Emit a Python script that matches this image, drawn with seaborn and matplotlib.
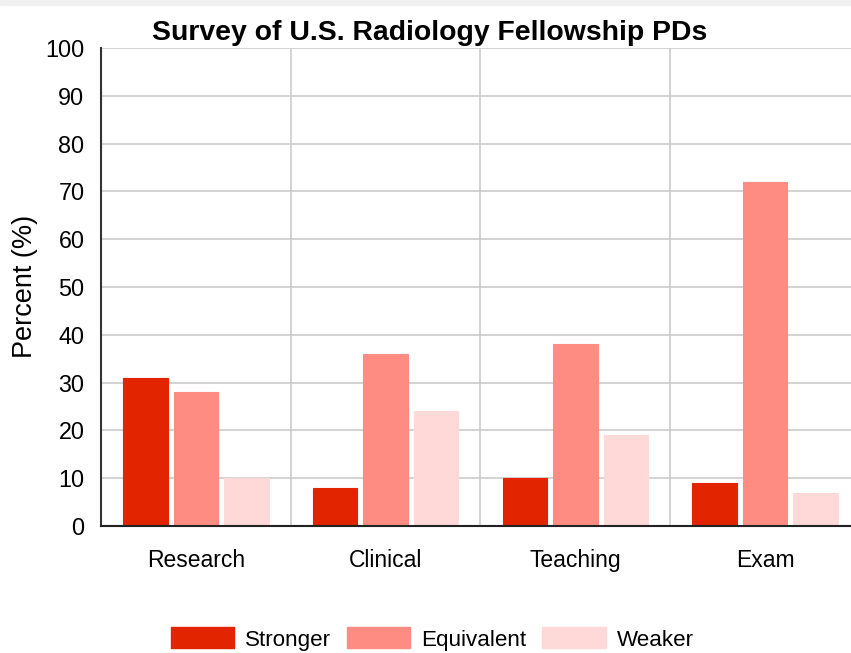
import matplotlib
matplotlib.use("Agg")
import matplotlib.pyplot as plt
import seaborn as sns
import pandas as pd
from matplotlib.patches import Rectangle, Patch

categories = ["Research", "Clinical", "Teaching", "Exam"]
series = ["Stronger", "Equivalent", "Weaker"]
stronger = [31, 8, 10, 9]
equivalent = [28, 36, 38, 72]
weaker = [10, 24, 19, 7]
colors = ["#E32400", "#FF8C82", "#FFD8D8"]
yticks = [0, 10, 20, 30, 40, 50, 60, 70, 80, 90, 100]

rows = []
for s, vals in zip(series, [stronger, equivalent, weaker]):
    for c, v in zip(categories, vals):
        rows.append({"Category": c, "Series": s, "Value": v})
df = pd.DataFrame(rows)

sns.set_style("white")
plt.rcParams["font.family"] = ["Liberation Sans", "DejaVu Sans"]
plt.rcParams["text.color"] = "black"
plt.rcParams["xtick.color"] = "black"
plt.rcParams["ytick.color"] = "black"

W, H = 851, 653
fig = plt.figure(figsize=(W / 100, H / 100), dpi=100)
fig.patches.append(Rectangle((0, 1 - 5 / H), 1, 5 / H, transform=fig.transFigure,
                             color="#F0F0F0", zorder=0))
ax = fig.add_axes([101 / W, 1 - 526 / H, (860 - 101) / W, (526 - 48) / H])

sns.barplot(data=df, x="Category", y="Value", hue="Series", hue_order=series,
            palette=colors, saturation=1, width=0.8, gap=0.12, ax=ax, legend=False,
            linewidth=0, zorder=3)
for i, bars in enumerate(ax.containers):
    for b in bars:
        b.set_edgecolor(colors[i])
        b.set_linewidth(0.8)

ax.set_xlim(-0.5, 3.5)
ax.set_ylim(0, 100)
ax.set_yticks(yticks)
ax.set_yticklabels([str(t) for t in yticks], fontsize=16.8)
ax.tick_params(axis="y", length=9.4, color="#CCCCCC", labelcolor="black", width=1.2, pad=2.5)
ax.yaxis.grid(True, color="#CCCCCC", linewidth=1.2, zorder=0)

ax.set_xticks(range(len(categories)))
ax.set_xticklabels(categories, fontsize=16.5)
ax.tick_params(axis="x", which="major", length=0, pad=16.5, labelcolor="black")
ax.set_xticks([-0.5, 0.5, 1.5, 2.5, 3.5], minor=True)
ax.tick_params(axis="x", which="minor", length=7.9, color="#CCCCCC", width=1.2)
ax.xaxis.grid(True, which="minor", color="#CCCCCC", linewidth=1.2, zorder=0)
ax.xaxis.grid(False, which="major")
mt = ax.xaxis.get_minorticklines()
mt[0].set_color("#333333")
mt[0].set_markeredgewidth(1.5)

for side in ["top", "right"]:
    ax.spines[side].set_visible(False)
ax.spines["left"].set_color("#333333")
ax.spines["left"].set_linewidth(1.5)
ax.spines["bottom"].set_color("#222222")
ax.spines["bottom"].set_linewidth(1.5)
ax.spines["bottom"].set_zorder(4)

ax.set_xlabel("")
ax.set_ylabel("Percent (%)", fontsize=19.5, color="black")
ax.yaxis.label.set_verticalalignment("center")
ax.yaxis.set_label_coords((25 - 101) / 759, (526 - 286) / 478)

fig.text(430 / W, 1 - 33 / H, "Survey of U.S. Radiology Fellowship PDs",
         ha="center", va="center", fontsize=20.4, fontweight="bold", color="black")

handles = [Patch(facecolor=c, edgecolor=c, label=s) for s, c in zip(series, colors)]
fig.legend(handles=handles, loc="center", bbox_to_anchor=(432 / W, 1 - 639 / H),
           ncol=3, frameon=False, fontsize=16.1, handlelength=2.85, handleheight=1.05,
           handletextpad=0.48, columnspacing=0.7, borderpad=0)

fig.savefig("out.png", dpi=100)
